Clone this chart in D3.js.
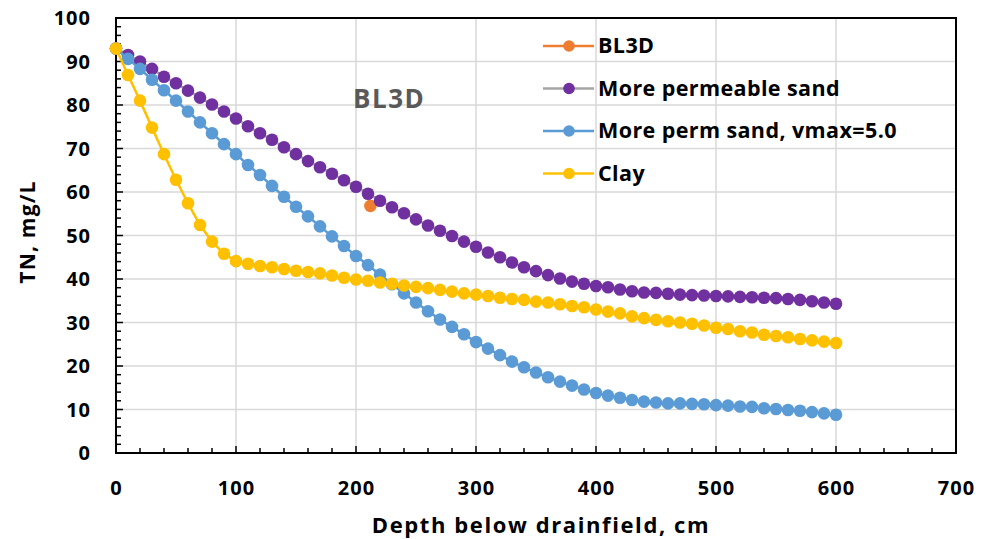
<!DOCTYPE html>
<html><head><meta charset="utf-8">
<script src="https://cdn.jsdelivr.net/npm/d3@7"></script>
<style>body{margin:0;background:#fff;} svg{display:block;}</style>
</head><body>
<script>
const depths = d3.range(0, 601, 10);
const permSand = [93,91.5,90.0,88.3,86.5,85.0,83.3,81.7,80.1,78.5,76.9,75.1,73.5,72.0,70.3,68.7,67.1,65.7,64.2,62.7,61.2,59.6,58.0,56.5,55.1,53.7,52.3,51.1,49.9,48.6,47.4,46.1,45.0,43.8,42.7,41.8,40.9,40.1,39.4,38.9,38.4,38.1,37.6,37.2,36.9,36.8,36.6,36.4,36.3,36.2,36.1,36.0,35.9,35.8,35.7,35.6,35.4,35.2,34.9,34.6,34.3];
const permSandV5 = [93,90.6,88.3,85.8,83.4,81.0,78.5,76.0,73.5,71.0,68.7,66.2,63.9,61.4,58.9,56.6,54.4,52.1,49.8,47.6,45.3,43.2,41.0,38.8,36.7,34.6,32.6,30.7,29.0,27.3,25.5,24.0,22.5,21.0,19.7,18.5,17.4,16.4,15.5,14.6,13.8,13.2,12.7,12.2,11.8,11.6,11.4,11.4,11.3,11.2,11.0,10.9,10.7,10.6,10.3,10.1,9.9,9.7,9.4,9.1,8.8];
const clay = [93,86.9,81.0,74.8,68.7,62.8,57.4,52.4,48.6,45.8,44.1,43.5,43.0,42.7,42.3,41.9,41.6,41.3,40.8,40.3,39.9,39.6,39.2,38.9,38.5,38.2,37.9,37.5,37.1,36.7,36.4,36.1,35.7,35.4,35.2,34.8,34.6,34.2,33.8,33.5,33.0,32.5,32.1,31.4,31.0,30.6,30.3,30.0,29.7,29.3,28.8,28.5,28.0,27.7,27.2,26.9,26.6,26.2,25.9,25.6,25.3];
const bl3dX = [212];
const bl3dY = [56.8];
const seriesNames = ["BL3D","More permeable sand","More perm sand, vmax=5.0","Clay"];
const xTicks = [0,100,200,300,400,500,600,700];
const yTicks = [0,10,20,30,40,50,60,70,80,90,100];

const W=990,H=539;
const L=116,R=956,T=18,B=453;
const font="'Open Sans', sans-serif";
const svg=d3.select("body").append("svg").attr("width",W).attr("height",H);
const x=d3.scaleLinear().domain([0,700]).range([L,R]);
const y=d3.scaleLinear().domain([0,100]).range([B,T]);

// grid
svg.append("g").selectAll("line").data(xTicks.slice(1,-1)).join("line")
 .attr("x1",d=>x(d)).attr("x2",d=>x(d)).attr("y1",T).attr("y2",B)
 .attr("stroke","#d9d9d9").attr("stroke-width",1.5);
svg.append("g").selectAll("line").data(yTicks.slice(1,-1)).join("line")
 .attr("y1",d=>y(d)).attr("y2",d=>y(d)).attr("x1",L).attr("x2",R)
 .attr("stroke","#d9d9d9").attr("stroke-width",1.5);

// minor ticks
const xMinor=d3.range(0,701,20).filter(d=>d%100!==0);
const yMinor=d3.range(0,101,2).filter(d=>d%10!==0);
const gAx=svg.append("g").attr("stroke","#000").attr("stroke-width",1.5);
gAx.selectAll(".xm").data(xMinor).join("line").attr("x1",d=>x(d)).attr("x2",d=>x(d)).attr("y1",B).attr("y2",B-5);
gAx.selectAll(".xM").data(xTicks).join("line").attr("x1",d=>x(d)).attr("x2",d=>x(d)).attr("y1",B).attr("y2",B-7);
gAx.selectAll(".ym").data(yMinor).join("line").attr("y1",d=>y(d)).attr("y2",d=>y(d)).attr("x1",L).attr("x2",L+5);
gAx.selectAll(".yM").data(yTicks).join("line").attr("y1",d=>y(d)).attr("y2",d=>y(d)).attr("x1",L).attr("x2",L+7);

// border
svg.append("rect").attr("x",L).attr("y",T).attr("width",R-L).attr("height",B-T)
 .attr("fill","none").attr("stroke","#000").attr("stroke-width",2);

// tick labels
svg.append("g").selectAll("text").data(xTicks).join("text")
 .attr("x",d=>x(d)+0.5).attr("y",495).attr("text-anchor","middle").attr("letter-spacing",1)
 .attr("font-family",font).attr("font-weight","bold").attr("font-size",20).text(d=>d);
svg.append("g").selectAll("text").data(yTicks).join("text")
 .attr("x",91).attr("y",d=>y(d)+7).attr("text-anchor","end").attr("letter-spacing",1)
 .attr("font-family",font).attr("font-weight","bold").attr("font-size",20).text(d=>d);

// axis titles
svg.append("text").attr("x",541).attr("y",533).attr("text-anchor","middle").attr("letter-spacing",1.6)
 .attr("font-family",font).attr("font-weight","bold").attr("font-size",22).text("Depth below drainfield, cm");
svg.append("text").attr("transform","translate(35,232) rotate(-90)").attr("text-anchor","middle").attr("letter-spacing",1.2)
 .attr("font-family",font).attr("font-weight","bold").attr("font-size",21).text("TN, mg/L");

// annotation
svg.append("text").attr("x",353).attr("y",108).attr("font-family",font).attr("font-weight","bold").attr("letter-spacing",1.5)
 .attr("font-size",26).attr("fill","#595959").text("BL3D");

const line=d3.line().x(d=>x(d[0])).y(d=>y(d[1]));
const series=[
 {name:seriesNames[0],pts:bl3dX.map((d,i)=>[d,bl3dY[i]]),color:"#ED7D31",lineColor:"#ED7D31"},
 {name:seriesNames[1],pts:depths.map((d,i)=>[d,permSand[i]]),color:"#7030A0",lineColor:"#A5A5A5"},
 {name:seriesNames[2],pts:depths.map((d,i)=>[d,permSandV5[i]]),color:"#5B9BD5",lineColor:"#5B9BD5"},
 {name:seriesNames[3],pts:depths.map((d,i)=>[d,clay[i]]),color:"#FFC000",lineColor:"#FFC000"}
];
const r=6.3;
series.forEach(s=>{
 const g=svg.append("g");
 g.append("path").attr("d",line(s.pts)).attr("fill","none").attr("stroke",s.lineColor).attr("stroke-width",2.5);
 g.selectAll("circle").data(s.pts).join("circle").attr("cx",d=>x(d[0])).attr("cy",d=>y(d[1])).attr("r",r).attr("fill",s.color);
});

// legend
const legY=[46,88.5,131,173.5];
series.forEach((s,i)=>{
 const g=svg.append("g").attr("transform",`translate(0,${legY[i]})`);
 g.append("line").attr("x1",543).attr("x2",594).attr("y1",0).attr("y2",0).attr("stroke",s.lineColor).attr("stroke-width",2.5);
 g.append("circle").attr("cx",569).attr("cy",0).attr("r",5.8).attr("fill",s.color);
 g.append("text").attr("x",598).attr("y",7).attr("font-family",font).attr("font-weight","bold").attr("letter-spacing",0.4).attr("font-size",21.5).text(s.name);
});
</script>
</body></html>
